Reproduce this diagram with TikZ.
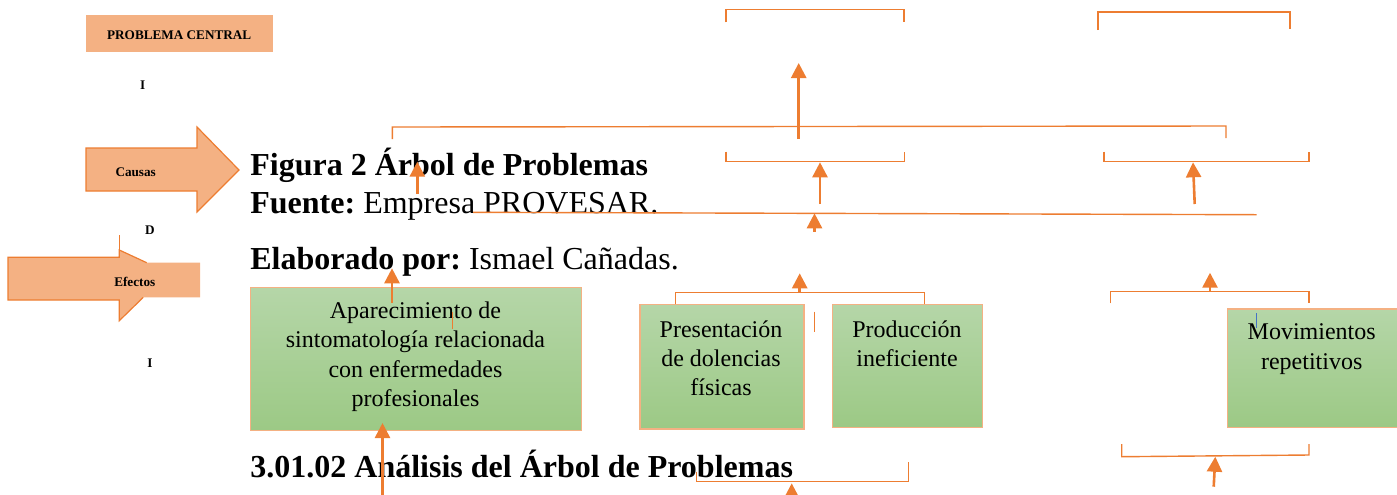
\documentclass[tikz,border=0pt]{standalone}
\usepackage{fontspec}
\setmainfont{Liberation Serif}
\usetikzlibrary{arrows.meta}
\definecolor{orline}{HTML}{ED7D31}
\definecolor{orfill}{HTML}{F4B183}
\definecolor{gtop}{HTML}{B5D6A8}
\definecolor{gbot}{HTML}{9CC985}
\definecolor{cursor}{HTML}{4472C4}

\begin{document}
\frenchspacing
\begin{tikzpicture}[x=0.5pt,y=-0.5pt,
    bline/.style={draw=orline,line width=0.7pt},
    uparrow/.style={draw=orline,line width=1.3pt,-{Triangle[width=7.5pt,length=7.5pt]}},
    greenbox/.style={draw=orfill,line width=0.6pt,top color=gtop,bottom color=gbot,inner sep=0pt,anchor=north west},
    boxtext/.style={align=center,inner sep=0pt,anchor=north,font=\fontsize{12}{14.6}\selectfont},
    heading/.style={anchor=base west,inner sep=0pt,font=\fontsize{16}{19}\selectfont},
    tag/.style={inner sep=0pt,font=\fontsize{6.6}{8}\selectfont\bfseries}]
    \clip (0,0) rectangle (1397,494);

    % Draw left side labels
    \node[fill=orfill,minimum width=93.5pt,minimum height=18.5pt,inner sep=0pt] (central) at (179.5,33.5) {};
    \node[tag] (centralT) at (179.2,35) {PROBLEMA CENTRAL};
    \node[tag] (i1) at (142.7,85) {I};
    \node[tag] (d1) at (150,230) {D};
    \node[tag] (i2) at (150,362.7) {I};

    % Draw arrow for causas
    \filldraw[fill=orfill,draw=orline,line width=0.6pt] (86,148) -- (197,148) -- (197,127) -- (239,170)
        -- (197,212) -- (197,191) -- (86,191) -- cycle;
    \node[tag] (causas) at (135.7,172) {Causas};

    % Draw arrow for efectos (cut at the right)
    \fill[orfill] (8,257.3) -- (119.3,257.3) -- (119.3,250) -- (146.7,262.7) -- (200,262.7) -- (200,297.3)
        -- (143.3,297.3) -- (119.3,320.7) -- (119.3,300) -- (8,300) -- cycle;
    \draw[orline,line width=0.6pt] (146.7,262.7) -- (119.3,250) -- (119.3,257.3) -- (8,257.3) -- (8,300)
        -- (119.3,300) -- (119.3,320.7) -- (143.3,297.3);
    \draw[orline,line width=0.6pt] (119.3,235) -- (119.3,250);
    \node[tag] (efectos) at (134.8,281.7) {Efectos};

    % Caption lines
    \node[heading] (fig) at (250,175) {\bfseries Figura 2 Árbol de Problemas};
    \node[heading] (fuente) at (250,213) {\textbf{Fuente:} Empresa PROVESAR.};
    \node[heading] (elab) at (250,269) {\textbf{Elaborado por:} Ismael Cañadas.};
    \node[heading] (sec) at (250,477) {\bfseries 3.01.02 Análisis del Árbol de Problemas};

    % Draw green boxes
    \node[greenbox,minimum width=165.5pt,minimum height=71.5pt] (apar) at (250,287) {};
    \node[greenbox,minimum width=82pt,minimum height=62.2pt] (dolen) at (639.3,304) {};
    \node[greenbox,minimum width=75pt,minimum height=61.3pt] (produ) at (831.7,304) {};
    \node[greenbox,minimum width=85pt,minimum height=59.2pt] (movim) at (1226.7,308.3) {};

    % Box texts
    \node[boxtext] (aparT) at (415.5,301.6) {Aparecimiento de\\sintomatología relacionada\\con enfermedades\\profesionales};
    \node[boxtext] (dolenT) at (721,320) {Presentación\\de dolencias\\físicas};
    \node[boxtext] (produT) at (907,320.3) {Producción\\ineficiente};
    \node[boxtext] (movimT) at (1311.7,323.6) {Movimientos\\repetitivos};
    \draw[cursor,line width=0.4pt] (1256,313) -- (1256,328);

    % Draw brackets
    \draw[bline] (726,22.3) -- (726,9.3) -- (904,9.3) -- (904,22.3);
    \draw[bline] (1098,30) -- (1098,12) -- (1290,12) -- (1290,29);
    \draw[bline] (392.3,139) -- (392.3,127) -- (1226,126) -- (1226,138);
    \draw[bline] (726,151.7) -- (726,161.7) -- (904.4,161.7) -- (904.4,151.7);
    \draw[bline] (1104,151.7) -- (1104,161.7) -- (1309,161.7) -- (1309,151.7);
    \draw[bline] (473,212.3) -- (1256.7,214.7);
    \draw[bline] (675.7,304) -- (675.7,292.3) -- (924.3,292.3) -- (924.3,304);
    \draw[bline] (1110.7,303.3) -- (1110.7,291.7) -- (1309,291.7) -- (1309,303.3);
    \draw[bline] (1121.7,444) -- (1121.7,456.7) -- (1309,455) -- (1309,444);
    \draw[bline] (696.7,471.7) -- (696.7,481.7) -- (908.7,481.7) -- (908.7,461.7);
    \draw[bline] (814.3,311.7) -- (814.3,331.7);
    \draw[bline] (452.3,311.7) -- (452.3,329.3);

    % Arrow end points
    \coordinate (a0s) at (417.3,194);   \coordinate (a0t) at (417.3,161.7);
    \coordinate (a1s) at (798.7,139);   \coordinate (a1t) at (798.7,63);
    \coordinate (a2s) at (820,204);     \coordinate (a2t) at (820,162.3);
    \coordinate (a3s) at (1194.7,204);  \coordinate (a3t) at (1193,162.3);
    \coordinate (a4s) at (814.5,231.7); \coordinate (a4t) at (814.5,213.3);
    \coordinate (a5s) at (799.7,292);   \coordinate (a5t) at (799.7,273.3);
    \coordinate (a6s) at (1210,291.7);  \coordinate (a6t) at (1210,272.7);
    \coordinate (a7s) at (1213.7,486.7);\coordinate (a7t) at (1215.3,456.7);
    \coordinate (a8s) at (791.7,505);   \coordinate (a8t) at (791.7,483.3);
    \coordinate (a9s) at (392,302.7);   \coordinate (a9t) at (392,268.3);
    \coordinate (a10s) at (382.5,505);  \coordinate (a10t) at (382.5,423);

    % Draw arrows
    \foreach \k in {0,...,10}
        \draw[uparrow] (a\k s) -- (a\k t);
\end{tikzpicture}
\end{document}
